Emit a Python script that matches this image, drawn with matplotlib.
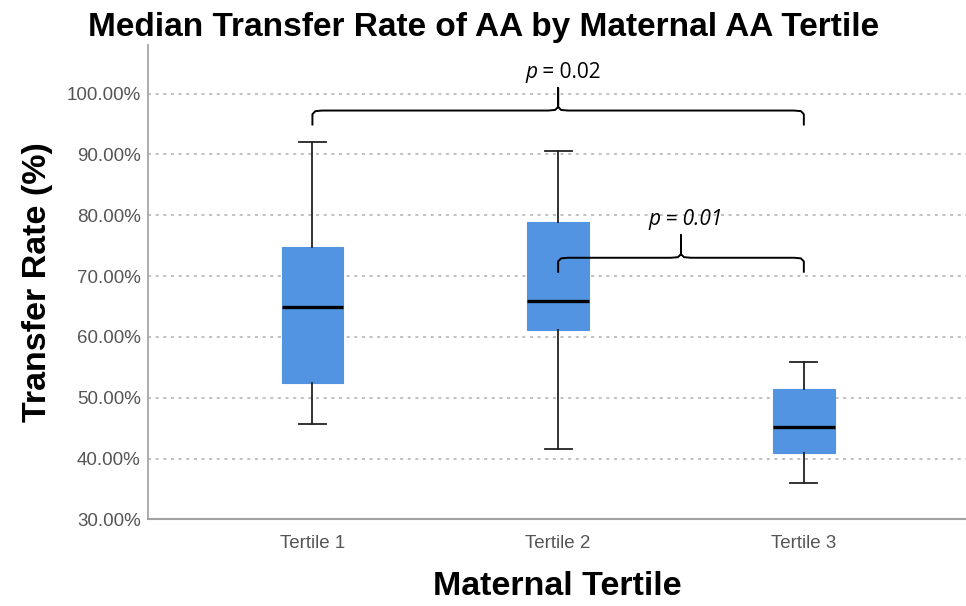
import matplotlib as mpl
mpl.use('Agg')
import matplotlib.pyplot as plt
import numpy as np
from matplotlib.ticker import FuncFormatter

# box statistics (percent)
tertiles = ['Tertile 1', 'Tertile 2', 'Tertile 3']
whislo = [45.6, 41.5, 35.9]
q1 = [52.4, 61.1, 40.9]
med = [64.9, 65.9, 45.2]
q3 = [74.8, 78.9, 51.4]
whishi = [92.1, 90.6, 55.9]

# significance brackets: (from, to, level, label)
brackets = [(1, 3, 97.2, 'p', ' = 0.02'), (2, 3, 73.0, 'p', ' = 0.01')]

mpl.rcParams['font.family'] = 'Liberation Sans'

fig = plt.figure(figsize=(9.66, 6.06), dpi=100)
ax = fig.add_axes([0.153, 0.143, 0.847, 0.783])

stats = []
for i in range(3):
    stats.append(dict(label=tertiles[i], whislo=whislo[i], q1=q1[i], med=med[i],
                      q3=q3[i], whishi=whishi[i], fliers=[]))

box_col = '#5294e2'
ax.bxp(stats, positions=[1, 2, 3], widths=0.25, capwidths=0.11, patch_artist=True,
       showfliers=False,
       boxprops=dict(facecolor=box_col, edgecolor=box_col, linewidth=0.8),
       medianprops=dict(color='black', linewidth=2.4),
       whiskerprops=dict(color='#222222', linewidth=1.3),
       capprops=dict(color='#222222', linewidth=1.3), zorder=3)

ax.set_xlim(0.33, 3.66)
ax.set_ylim(30, 108)
ax.set_yticks(np.arange(30, 101, 10))
ax.yaxis.set_major_formatter(FuncFormatter(lambda v, p: '%.2f%%' % v))
ax.set_xticks([1, 2, 3])
ax.set_xticklabels(tertiles)

for y in range(40, 101, 10):
    ax.axhline(y, color='#b0b0b0', linestyle=(0, (2, 3)), linewidth=1.1, zorder=1)

for s in ['top', 'right']:
    ax.spines[s].set_visible(False)
ax.spines['left'].set_color('#a0a0a0')
ax.spines['bottom'].set_color('#a0a0a0')
ax.spines['left'].set_linewidth(1.2)
ax.spines['bottom'].set_linewidth(1.5)
ax.tick_params(axis='both', length=0, labelsize=13.5, labelcolor='#555555', pad=5)
ax.tick_params(axis='x', pad=11)

fig.text(0.501, 0.955, 'Median Transfer Rate of AA by Maternal AA Tertile', fontsize=24,
         fontweight='bold', ha='center', va='center')
ax.set_ylabel('Transfer Rate (%)', fontsize=24.5, fontweight='bold', labelpad=10)
ax.set_xlabel('Maternal Tertile', fontsize=24.5, fontweight='bold', labelpad=14)


def brace(x1, x2, h, ital, rest, italic_all):
    xm = (x1 + x2) / 2.0
    drop, r, peak = 2.3, 0.04, 3.7
    xs = [x1, x1, x1 + r * 0.3, x1 + r, xm - r, xm - r * 0.3, xm, xm,
          xm, xm + r * 0.3, xm + r, x2 - r, x2 - r * 0.3, x2, x2]
    ys = [h - drop, h - 0.6, h - 0.1, h, h, h + 0.1, h + 0.6, h + peak,
          h + 0.6, h + 0.1, h, h, h - 0.1, h - 0.6, h - drop]
    ax.plot(xs, ys, color='black', linewidth=1.4, zorder=4, clip_on=False)
    style = 'italic' if italic_all else 'normal'
    ax.annotate(ital, xy=(xm, h + peak + 2.6), ha='right', va='center',
                fontsize=15, style='italic', family='Open Sans',
                annotation_clip=False, xytext=(-15, 0), textcoords='offset points')
    ax.annotate(rest, xy=(xm, h + peak + 2.6), ha='left', va='center',
                fontsize=15, style=style, family='Open Sans',
                annotation_clip=False, xytext=(-15, 0), textcoords='offset points')


brace(brackets[0][0], brackets[0][1], brackets[0][2], brackets[0][3], brackets[0][4], False)
brace(brackets[1][0], brackets[1][1], brackets[1][2], brackets[1][3], brackets[1][4], True)

plt.savefig('out.png', dpi=100)
